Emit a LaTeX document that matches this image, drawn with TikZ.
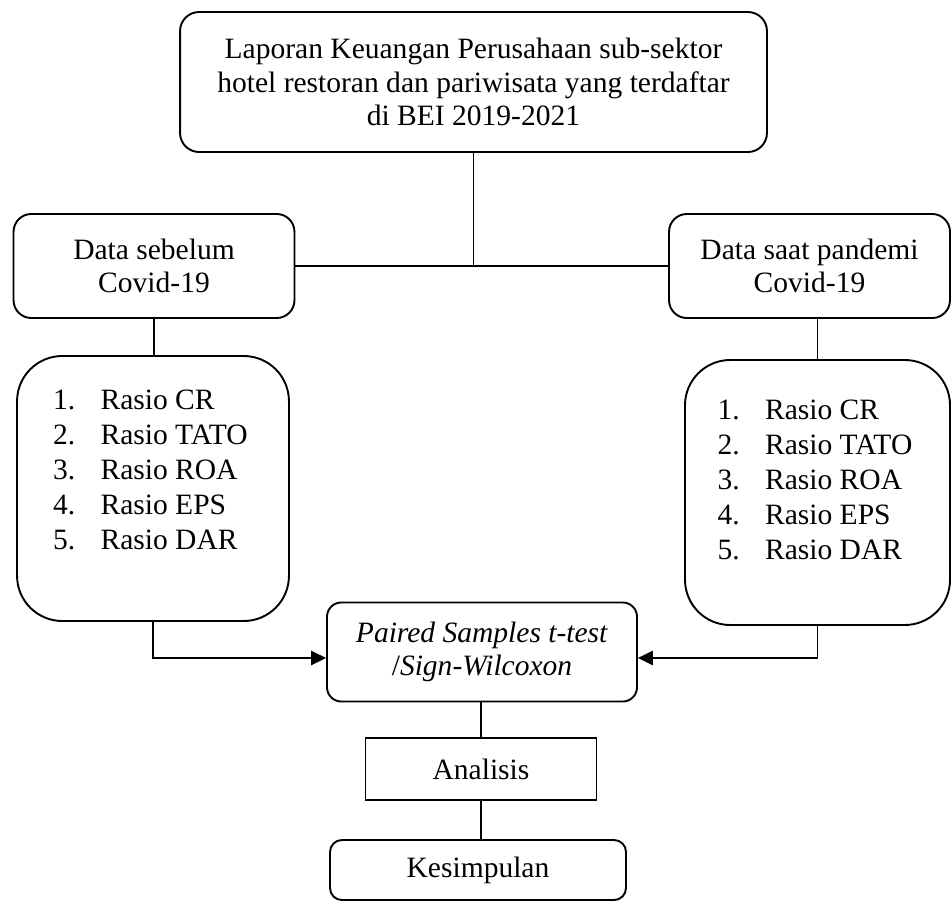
\documentclass[tikz,border=0pt]{standalone}
\usepackage{fontspec}
\setmainfont{Liberation Serif}
\usetikzlibrary{arrows.meta}

\newcommand\rasiolist[1]{%
  \begin{minipage}[c][111pt][t]{84pt}
    \vspace*{#1}
    \fontsize{12.4}{14.7}\selectfont
    \begin{tabular}{@{}p{20pt}@{}l@{}}
      1. & Rasio CR\\
      2. & Rasio TATO\\
      3. & Rasio ROA\\
      4. & Rasio EPS\\
      5. & Rasio DAR
    \end{tabular}
  \end{minipage}}

\begin{document}
\begin{tikzpicture}[
  x=0.42pt, y=-0.42pt,
  font=\fontsize{12.4}{14}\selectfont,
  line width=0.8pt,
  srcbox/.style={draw,rounded corners=8pt,align=center,
    minimum width=246.5pt,minimum height=58.8pt,inner sep=2pt},
  databox/.style={draw,rounded corners=7.5pt,align=center,
    minimum width=118pt,minimum height=43.7pt,inner sep=2pt},
  listbox/.style={draw,rounded corners=19pt,inner sep=0pt,
    minimum height=111.3pt},
  testbox/.style={draw,rounded corners=6pt,align=center,
    minimum width=130.2pt,minimum height=41.6pt,inner sep=2pt},
  flatbox/.style={draw,minimum width=97pt,minimum height=26pt,inner sep=2pt},
  endbox/.style={draw,rounded corners=5pt,
    minimum width=124.3pt,minimum height=25.2pt,inner sep=2pt},
  tip/.style={-{Triangle[length=6.3pt,width=6pt]}}]
\useasboundingbox (0,0) rectangle (952,903);

\node[srcbox] (laporan) at (473.5,82)
  {Laporan Keuangan Perusahaan sub-sektor\\
   hotel restoran dan pariwisata yang terdaftar\\
   di BEI 2019-2021};
\node[databox] (sebelum) at (154,266) {Data sebelum\\Covid-19};
\node[databox] (pandemi) at (809.5,266) {Data saat pandemi\\Covid-19};
\node[listbox,minimum width=114.2pt] (rasioA) at (153,488.5) {\rasiolist{12pt}};
\node[listbox,minimum width=111.3pt] (rasioB) at (817.5,492.5) {\rasiolist{14.5pt}};
\node[testbox] (uji) at (482,652)
  {\textit{Paired Samples t-test}\\/\textit{Sign-Wilcoxon}};
\node[flatbox] (analisis) at (481,769) {Analisis};
\node[endbox] (simpulan) at (478,870) {Kesimpulan};

% connectors
\draw (laporan.south) -- (laporan.south |- sebelum.east);
\draw (sebelum.east) -- (pandemi.west);
\draw (sebelum.south) -- (sebelum.south |- rasioA.north);
\draw (rasioB.north) -- (rasioB.north |- pandemi.south);
\draw[tip] (rasioA.south) |- ([yshift=-2.5pt]uji.west);
\draw[tip] (rasioB.south) |- ([yshift=-2.5pt]uji.east);
\draw (uji.south -| analisis.north) -- (analisis.north);
\draw (analisis.south) -- (analisis.south |- simpulan.north);
\end{tikzpicture}
\end{document}
